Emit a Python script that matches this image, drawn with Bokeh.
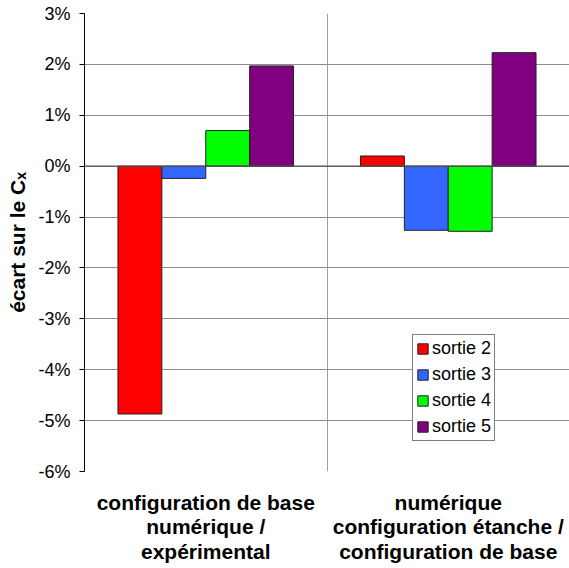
from bokeh.plotting import figure
from bokeh.models import FixedTicker, Span, Legend, LegendItem, ColumnDataSource
from bokeh.embed import file_html
from bokeh.resources import INLINE

# ---- data ----
categories = ["configuration de base\nnumérique /\nexpérimental",
              "numérique\nconfiguration étanche /\nconfiguration de base"]
series = ["sortie 2", "sortie 3", "sortie 4", "sortie 5"]
sortie2 = [-4.87, 0.20]
sortie3 = [-0.24, -1.26]
sortie4 = [0.70, -1.28]
sortie5 = [1.97, 2.23]
colors = ["#FF0000", "#3366FF", "#00FF00", "#800080"]
y_ticks = [-6, -5, -4, -3, -2, -1, 0, 1, 2, 3]
y_tick_labels = [f"{t}%" for t in y_ticks]

values = [sortie2, sortie3, sortie4, sortie5]
FONT = "Liberation Sans"

p = figure(width=569, height=568, output_backend="svg", toolbar_location=None,
           x_range=(0, 2), y_range=(-6, 3),
           min_border_left=84, min_border_right=0, min_border_top=13, min_border_bottom=97)
p.outline_line_color = None
p.background_fill_color = "white"

bar_w = 0.181
renderers = []
for i, (name, vals, col) in enumerate(zip(series, values, colors)):
    xs = [g + 0.5 + (i - 1.5) * bar_w for g in range(len(categories))]
    src = ColumnDataSource(dict(x=xs, top=vals))
    r = p.vbar(x="x", top="top", bottom=0, width=bar_w, source=src,
               fill_color=col, line_color="#222222", line_width=1)
    renderers.append((name, r))

# zero line (category axis)
p.add_layout(Span(location=0, dimension="width", line_color="#555555", line_width=1.3))

# y axis
p.yaxis.ticker = FixedTicker(ticks=y_ticks)
p.yaxis.major_label_overrides = {t: l for t, l in zip(y_ticks, y_tick_labels)}
p.yaxis.minor_tick_line_color = None
p.yaxis.major_tick_in = 0
p.yaxis.major_tick_out = 5
p.yaxis.axis_line_color = "black"
p.yaxis.major_tick_line_color = "black"
p.yaxis.major_label_text_font = FONT
p.yaxis.major_label_text_font_size = "18px"
p.yaxis.major_label_text_color = "black"
p.yaxis.major_label_standoff = 9
p.yaxis.axis_label = "écart sur le Cₓ"
p.yaxis.axis_label_text_font = FONT
p.yaxis.axis_label_text_font_size = "21px"
p.yaxis.axis_label_text_font_style = "bold"
p.yaxis.axis_label_text_color = "black"
p.yaxis.axis_label_standoff = 6

# x axis
p.xaxis.ticker = FixedTicker(ticks=[0.5, 1.5])
p.xaxis.major_label_overrides = {0.5: categories[0], 1.5: categories[1]}
p.xaxis.axis_line_color = None
p.xaxis.major_tick_line_color = None
p.xaxis.minor_tick_line_color = None
p.xaxis.major_label_text_font = FONT
p.xaxis.major_label_text_font_size = "21px"
p.xaxis.major_label_text_font_style = "bold"
p.xaxis.major_label_text_color = "black"
p.xaxis.major_label_text_line_height = 1.08
p.xaxis.major_label_standoff = 13

# grids
p.ygrid.ticker = FixedTicker(ticks=y_ticks)
p.ygrid.grid_line_color = "#8C8C8C"
p.ygrid.grid_line_width = 1
p.xgrid.ticker = FixedTicker(ticks=[1])
p.xgrid.grid_line_color = "#A0A0A0"

legend = Legend(items=[LegendItem(label=n, renderers=[r]) for n, r in renderers],
                location=(328, 30))
legend.border_line_color = "black"
legend.border_line_width = 1
legend.background_fill_color = "white"
legend.background_fill_alpha = 1
legend.label_text_font = FONT
legend.label_text_font_size = "18px"
legend.label_text_color = "black"
legend.glyph_width = 13
legend.glyph_height = 13
legend.label_height = 20
legend.label_standoff = 3
legend.spacing = 5
legend.padding = 3
legend.margin = 0
p.add_layout(legend, "center")

open("out.html", "w").write(file_html(p, INLINE))
